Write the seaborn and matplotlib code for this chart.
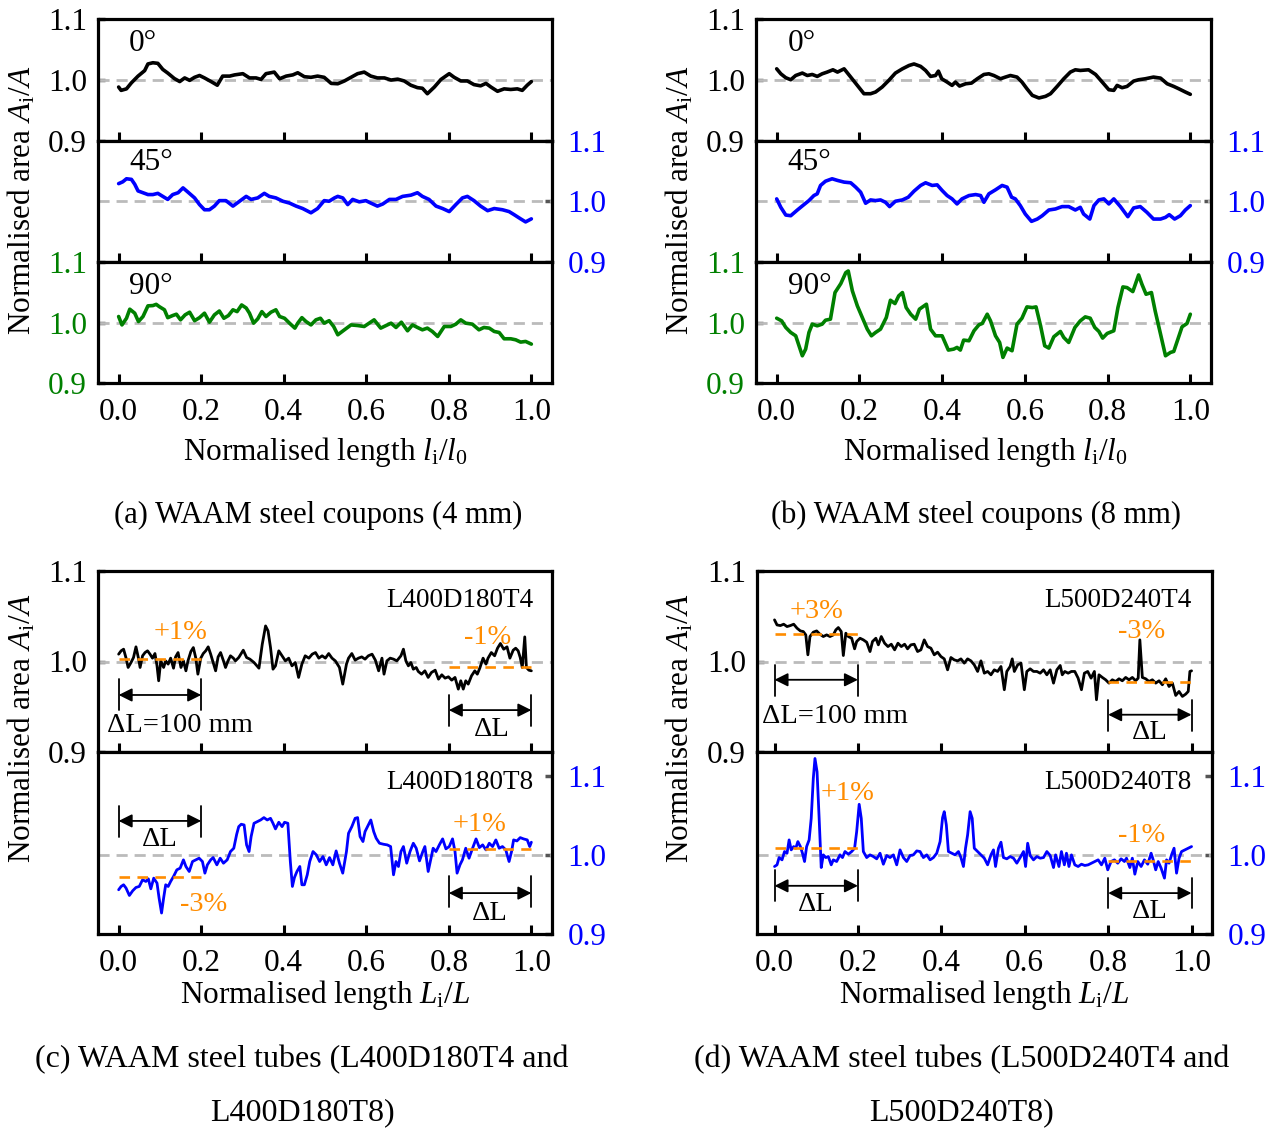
import matplotlib
matplotlib.use("Agg")
import matplotlib.pyplot as plt
import seaborn as sns

sns.set_style("ticks")
plt.rcParams["font.family"] = ["Liberation Serif", "DejaVu Serif"]
plt.rcParams["mathtext.fontset"] = "custom"
plt.rcParams["mathtext.rm"] = "Liberation Serif"
plt.rcParams["mathtext.it"] = "Liberation Serif:italic"
plt.rcParams["mathtext.bf"] = "Liberation Serif:bold"
plt.rcParams["text.color"] = "black"
plt.rcParams["axes.labelcolor"] = "black"
plt.rcParams["xtick.color"] = "black"
plt.rcParams["ytick.color"] = "black"

# ---------------- data: (a) 4 mm coupons ----------------
a0_x = [0.000,0.006,0.019,0.031,0.047,0.063,0.071,0.083,0.095,0.107,
        0.119,0.135,0.148,0.160,0.172,0.184,0.196,0.208,0.224,0.239,
        0.252,0.269,0.281,0.301,0.317,0.333,0.345,0.357,0.377,0.390,
        0.406,0.422,0.434,0.450,0.466,0.482,0.498,0.515,0.531,0.547,
        0.563,0.579,0.595,0.611,0.627,0.644,0.660,0.676,0.692,0.708,
        0.724,0.736,0.748,0.765,0.781,0.801,0.813,0.829,0.845,0.861,
        0.877,0.890,0.902,0.918,0.934,0.950,0.966,0.978,0.990,1.000]
a0_y = [0.988,0.9825,0.985,0.995,1.006,1.015,1.026,1.028,1.027,1.017,
        1.011,1.002,0.997,1.003,0.999,1.004,1.007,1.003,0.997,0.991,
        1.006,1.006,1.008,1.010,1.003,1.003,1.0005,1.010,1.0126,1.0016,
        1.006,1.008,1.0115,1.005,1.004,1.006,1.004,0.994,0.9934,0.998,
        1.004,1.010,1.0126,1.006,1.003,1.003,0.9995,1.001,0.998,0.991,
        0.987,0.986,0.977,0.988,1.0005,1.010,1.004,0.998,0.998,0.992,
        0.990,0.994,0.988,0.981,0.985,0.984,0.985,0.9825,0.991,0.997]

a45_x = [0.000,0.010,0.019,0.031,0.039,0.047,0.059,0.071,0.083,0.095,
         0.107,0.119,0.131,0.144,0.156,0.168,0.184,0.196,0.208,0.220,
         0.232,0.244,0.260,0.277,0.293,0.309,0.321,0.337,0.353,0.365,
         0.381,0.398,0.414,0.430,0.446,0.466,0.482,0.498,0.510,0.523,
         0.531,0.543,0.555,0.567,0.583,0.599,0.611,0.627,0.640,0.656,
         0.672,0.688,0.708,0.724,0.736,0.752,0.769,0.785,0.801,0.817,
         0.833,0.845,0.861,0.877,0.894,0.910,0.930,0.946,0.958,0.974,
         0.986,1.000]
a45_y = [1.029,1.032,1.037,1.036,1.028,1.017,1.014,1.011,1.011,1.013,
         1.008,1.003,1.011,1.014,1.022,1.015,1.0055,0.9945,0.986,0.986,
         0.992,1.001,1.001,0.992,1.0,1.008,1.003,1.0055,1.013,1.008,
         1.0055,1.0,0.997,0.992,0.988,0.981,0.988,1.001,1.0,1.0055,
         1.008,1.0055,0.9945,1.003,0.999,1.001,0.997,0.992,0.9955,1.003,
         1.003,1.008,1.010,1.014,1.008,1.003,0.992,0.988,0.983,0.9945,
         1.0055,1.008,1.001,0.992,0.9845,0.988,0.986,0.983,0.978,0.971,
         0.966,0.971]

a90_x = [0.000,0.008,0.019,0.027,0.039,0.048,0.059,0.071,0.083,0.091,
         0.099,0.111,0.119,0.131,0.140,0.150,0.161,0.172,0.184,0.196,
         0.208,0.220,0.232,0.244,0.255,0.266,0.277,0.287,0.298,0.309,
         0.317,0.327,0.337,0.347,0.357,0.369,0.381,0.390,0.402,0.414,
         0.427,0.434,0.444,0.454,0.466,0.478,0.489,0.498,0.510,0.521,
         0.531,0.547,0.563,0.579,0.595,0.607,0.619,0.635,0.648,0.660,
         0.672,0.685,0.700,0.712,0.724,0.736,0.748,0.760,0.773,0.789,
         0.805,0.817,0.829,0.841,0.857,0.873,0.885,0.898,0.910,0.922,
         0.934,0.950,0.962,0.974,0.986,1.000]
a90_y = [1.0099,0.996,1.007,1.022,1.0154,1.0016,1.0099,1.0275,1.028,1.030,
         1.026,1.021,1.008,1.0115,1.0137,1.0044,1.0126,1.017,1.003,1.008,
         1.0154,1.0005,1.0126,1.019,1.007,1.0115,1.021,1.018,1.029,1.024,
         1.0154,0.9989,1.006,1.018,1.0099,1.017,1.021,1.0099,1.007,0.9989,
         0.9907,0.9989,1.008,1.0016,0.996,1.0044,1.007,0.9989,1.003,0.9934,
         0.9797,0.9879,0.996,0.995,0.9934,0.9989,1.0044,0.9907,0.995,0.9989,
         0.9918,1.0005,0.9863,0.996,0.9918,0.9879,0.9907,0.9852,0.9769,0.9934,
         0.9934,0.9973,1.0044,0.9989,0.9973,0.9879,0.9918,0.9907,0.9852,0.9835,
         0.9731,0.9731,0.9714,0.9676,0.9687,0.9643]

# ---------------- data: (b) 8 mm coupons ----------------
b0_x = [0.000,0.010,0.022,0.034,0.046,0.062,0.074,0.086,0.098,0.110,
        0.122,0.136,0.147,0.163,0.179,0.195,0.211,0.227,0.239,0.255,
        0.271,0.287,0.304,0.320,0.332,0.348,0.360,0.372,0.384,0.391,
        0.399,0.412,0.424,0.432,0.442,0.457,0.471,0.485,0.501,0.513,
        0.525,0.541,0.553,0.565,0.581,0.593,0.605,0.618,0.634,0.650,
        0.662,0.678,0.694,0.710,0.722,0.734,0.754,0.771,0.787,0.803,
        0.815,0.823,0.835,0.847,0.863,0.875,0.891,0.911,0.928,0.944,
        0.960,0.972,0.988,1.000]
b0_y = [1.018,1.0098,1.0033,1.0,1.007,1.011,1.007,1.0087,1.0055,1.0098,
        1.0126,1.0164,1.0126,1.018,1.0044,0.9907,0.977,0.977,0.9798,0.988,
        0.9989,1.011,1.018,1.0235,1.026,1.022,1.0153,1.0055,1.007,1.0142,
        1.0016,0.9962,0.9907,0.9962,0.9896,0.9934,0.9945,1.0016,1.0087,1.0098,
        1.007,1.0016,1.0044,1.007,1.0044,0.9962,0.9852,0.9743,0.970,0.9727,
        0.977,0.989,1.0016,1.0126,1.0164,1.0153,1.0164,1.0087,0.9962,0.9836,
        0.9825,0.9907,0.9869,0.989,0.9978,1.0,1.0016,1.0044,1.0027,0.9934,
        0.989,0.9852,0.9798,0.976]

b45_x = [0.000,0.010,0.022,0.034,0.050,0.066,0.078,0.090,0.098,0.106,
         0.118,0.134,0.147,0.163,0.179,0.191,0.203,0.215,0.227,0.239,
         0.251,0.263,0.273,0.287,0.304,0.318,0.332,0.348,0.360,0.376,
         0.388,0.400,0.412,0.424,0.436,0.448,0.465,0.481,0.493,0.501,
         0.513,0.529,0.545,0.557,0.568,0.577,0.589,0.601,0.616,0.630,
         0.642,0.658,0.674,0.690,0.706,0.722,0.734,0.742,0.757,0.767,
         0.779,0.791,0.803,0.815,0.831,0.849,0.863,0.879,0.895,0.911,
         0.928,0.940,0.949,0.962,0.976,0.988,1.000]
b45_y = [1.0039,0.990,0.9773,0.9762,0.9856,0.9945,1.0011,1.0094,1.0122,1.026,
         1.033,1.037,1.0343,1.0315,1.0304,1.0232,1.0149,0.9967,1.0022,1.0011,
         1.0022,0.9983,0.9912,1.0,1.0022,1.0066,1.0166,1.026,1.0304,1.026,
         1.027,1.0177,1.0094,1.0039,0.9956,1.0039,1.0094,1.011,1.0094,0.9983,
         1.0122,1.0188,1.026,1.0232,1.0066,1.0039,0.9928,0.979,0.9669,0.9707,
         0.9762,0.9856,0.9873,0.9912,0.9912,0.9856,0.990,0.979,0.9707,0.9928,
         1.0022,1.0039,0.9956,1.0039,0.9912,0.9746,0.989,0.9912,0.9818,0.9707,
         0.9707,0.9735,0.9779,0.9707,0.9762,0.9856,0.9928]

b90_x = [0.000,0.012,0.022,0.034,0.046,0.054,0.062,0.070,0.078,0.086,
         0.098,0.110,0.118,0.130,0.141,0.155,0.167,0.173,0.183,0.195,
         0.207,0.219,0.229,0.239,0.251,0.265,0.275,0.286,0.295,0.304,
         0.313,0.324,0.336,0.345,0.362,0.372,0.384,0.400,0.415,0.428,
         0.436,0.444,0.452,0.465,0.477,0.489,0.497,0.509,0.517,0.529,
         0.539,0.547,0.557,0.569,0.581,0.593,0.605,0.618,0.627,0.638,
         0.648,0.658,0.670,0.686,0.694,0.706,0.721,0.734,0.746,0.758,
         0.769,0.779,0.788,0.799,0.815,0.825,0.837,0.847,0.861,0.875,
         0.883,0.893,0.906,0.915,0.928,0.940,0.952,0.960,0.970,0.980,
         0.992,1.000]
b90_y = [1.0071,1.0027,0.9918,0.9835,0.978,0.9615,0.945,0.956,0.9835,0.9973,
         0.9945,0.9973,1.0038,1.0055,1.0495,1.0643,1.0824,1.0852,1.0522,1.0275,
         1.0082,0.989,0.978,0.9835,0.989,1.0082,1.0368,1.0313,1.044,1.0495,
         1.0247,1.0137,1.0055,1.022,1.0302,0.989,0.978,0.978,0.9544,0.956,
         0.9588,0.9544,0.9709,0.9698,0.9863,0.9962,0.9984,1.0137,1.0027,0.978,
         0.967,0.9423,0.9577,0.9533,0.9973,1.0071,1.0258,1.0247,1.0258,0.9945,
         0.9615,0.9577,0.9764,0.9852,0.9753,0.967,0.9918,1.0027,1.0093,1.0071,
         0.9918,0.9852,0.9742,0.9819,0.9863,1.0247,1.0588,1.0577,1.0511,1.0786,
         1.0632,1.0467,1.0495,1.0192,0.9808,0.945,0.9505,0.9522,0.9725,0.9929,
         0.9984,1.0137]

# ---------------- data: (c) L400D180 tubes ----------------
cT4_x = [0.000,0.006,0.012,0.018,0.023,0.030,0.036,0.042,0.048,0.052,
         0.058,0.064,0.070,0.076,0.082,0.088,0.093,0.097,0.102,0.109,
         0.114,0.120,0.126,0.133,0.138,0.144,0.151,0.157,0.163,0.168,
         0.175,0.181,0.187,0.192,0.199,0.205,0.211,0.217,0.223,0.229,
         0.235,0.241,0.247,0.254,0.259,0.265,0.271,0.278,0.283,0.291,
         0.302,0.310,0.318,0.328,0.340,0.348,0.356,0.362,0.368,0.374,
         0.380,0.388,0.396,0.404,0.412,0.420,0.428,0.436,0.444,0.452,
         0.461,0.469,0.477,0.485,0.493,0.501,0.509,0.517,0.525,0.535,
         0.543,0.552,0.557,0.565,0.573,0.581,0.589,0.597,0.605,0.614,
         0.622,0.630,0.638,0.643,0.650,0.658,0.666,0.674,0.684,0.690,
         0.696,0.702,0.708,0.714,0.721,0.726,0.734,0.742,0.750,0.758,
         0.767,0.775,0.783,0.791,0.799,0.807,0.815,0.823,0.829,0.835,
         0.841,0.847,0.855,0.863,0.869,0.875,0.883,0.890,0.895,0.903,
         0.911,0.918,0.925,0.933,0.941,0.948,0.956,0.962,0.968,0.973,
         0.978,0.984,0.988,0.994,1.000]
cT4_y = [1.0081,1.0118,1.0136,1.0037,0.9934,0.9989,1.0044,1.0162,1.0037,0.9934,
         1.0063,1.0099,1.0118,1.0081,1.0037,1.0088,0.9952,0.9787,1.0007,0.9934,
         1.0007,0.9971,1.0037,0.9926,1.0051,1.0099,0.9934,1.0007,0.9897,1.0007,
         1.011,1.0154,1.0037,0.986,1.0037,1.0088,1.0118,1.0162,1.0081,0.9989,
         0.9897,1.0051,1.0099,1.0007,0.9934,1.0007,1.0063,1.0037,1.0007,1.0044,
         1.0125,1.0044,1.0026,0.9989,0.9926,1.0191,1.0393,1.0338,1.0154,0.9915,
         0.9952,1.0118,1.0063,1.0007,1.0037,0.9952,0.9989,0.9824,0.9971,1.0063,
         1.0037,1.0081,1.0099,1.0037,1.0063,1.0037,1.0088,1.0037,1.0007,0.9934,
         0.975,0.9971,1.0037,1.0088,1.0015,1.0037,1.0051,1.0026,1.0063,1.0081,
         1.0015,0.9897,1.0037,0.986,1.0007,1.0037,1.0026,1.0007,1.0063,1.0136,
         1.0007,0.9952,0.9989,0.9915,0.9934,0.989,0.986,0.9897,0.9824,0.9879,
         0.9904,0.9805,0.9853,0.9816,0.9831,0.9794,0.9824,0.9695,0.9787,0.9695,
         0.9787,0.975,0.9842,0.9897,0.986,0.9926,1.0037,0.9971,1.0037,1.0099,
         1.0063,1.0147,1.0199,1.0136,1.0162,1.0037,1.0125,1.0147,1.0118,1.0044,
         0.9934,1.0272,0.9934,0.9904,0.9897]

cT8_x = [0.000,0.006,0.012,0.018,0.026,0.034,0.042,0.050,0.058,0.066,
         0.072,0.078,0.085,0.093,0.098,0.104,0.109,0.114,0.120,0.126,
         0.133,0.141,0.149,0.157,0.163,0.171,0.179,0.187,0.195,0.203,
         0.209,0.215,0.223,0.229,0.238,0.246,0.254,0.263,0.271,0.279,
         0.286,0.291,0.297,0.304,0.310,0.316,0.321,0.328,0.336,0.344,
         0.352,0.360,0.368,0.374,0.380,0.388,0.396,0.402,0.410,0.416,
         0.421,0.426,0.432,0.439,0.444,0.450,0.457,0.463,0.471,0.479,
         0.487,0.495,0.503,0.511,0.519,0.527,0.535,0.543,0.552,0.557,
         0.565,0.573,0.579,0.585,0.592,0.597,0.603,0.611,0.618,0.624,
         0.632,0.642,0.651,0.659,0.666,0.672,0.678,0.684,0.690,0.698,
         0.706,0.714,0.721,0.729,0.737,0.742,0.750,0.756,0.762,0.769,
         0.777,0.785,0.793,0.801,0.809,0.815,0.820,0.827,0.833,0.841,
         0.849,0.857,0.866,0.874,0.882,0.890,0.898,0.906,0.914,0.922,
         0.930,0.938,0.946,0.952,0.957,0.965,0.973,0.981,0.990,0.996,
         1.000]
cT8_y = [0.9559,0.9601,0.9622,0.958,0.9487,0.9546,0.9588,0.9601,0.9685,0.9664,
         0.9697,0.9571,0.9706,0.9643,0.9454,0.9265,0.9454,0.9622,0.9601,0.9664,
         0.9727,0.9811,0.9832,0.9937,0.9853,0.979,0.9916,0.9937,0.9958,0.9916,
         0.9769,0.9874,0.9937,0.9966,0.9874,0.9958,0.9895,0.9937,1.0042,1.0084,
         1.026,1.0357,1.0387,1.0378,1.0126,1.0042,1.0231,1.0399,1.042,1.0441,
         1.0471,1.0441,1.0462,1.0399,1.0328,1.0412,1.0357,1.0412,1.0399,0.9916,
         0.9601,0.9714,0.979,0.9853,0.9622,0.9622,0.9748,0.9916,1.0042,1.0,
         0.9916,0.9979,0.9874,0.9966,0.9874,1.005,0.9895,0.9769,1.0042,1.0273,
         1.0357,1.0462,1.0471,1.0231,1.0168,1.0294,1.0357,1.0441,1.0294,1.021,
         1.0147,1.0134,1.0126,1.0105,0.9748,0.9916,0.9853,1.0042,1.0105,0.9895,
         1.0042,1.0147,1.0084,0.9924,1.0042,1.0105,0.979,0.9937,1.0084,1.0042,
         1.0126,1.0202,1.0076,1.0105,1.0202,1.0042,0.9769,0.9874,0.9937,1.0084,
         0.9958,1.0076,1.0202,1.0092,1.0126,1.0063,1.0147,1.0105,1.0189,1.0084,
         1.0105,1.0063,0.9916,1.0042,1.0189,1.0176,1.0218,1.0202,1.0189,1.0105,
         1.016]

# ---------------- data: (d) L500D240 tubes ----------------
dT4_x = [0.000,0.006,0.014,0.022,0.030,0.038,0.046,0.054,0.062,0.069,
         0.075,0.080,0.085,0.093,0.101,0.109,0.117,0.125,0.133,0.141,
         0.147,0.153,0.160,0.165,0.171,0.177,0.185,0.192,0.197,0.205,
         0.213,0.221,0.229,0.235,0.243,0.249,0.256,0.264,0.272,0.280,
         0.288,0.296,0.304,0.312,0.319,0.327,0.335,0.343,0.351,0.359,
         0.367,0.375,0.383,0.391,0.399,0.407,0.415,0.423,0.431,0.439,
         0.447,0.455,0.463,0.471,0.479,0.487,0.495,0.503,0.511,0.519,
         0.527,0.535,0.543,0.551,0.557,0.565,0.570,0.575,0.583,0.591,
         0.599,0.605,0.613,0.621,0.629,0.637,0.645,0.653,0.661,0.669,
         0.677,0.685,0.690,0.696,0.704,0.712,0.720,0.728,0.736,0.743,
         0.751,0.759,0.767,0.772,0.778,0.786,0.794,0.802,0.810,0.818,
         0.826,0.834,0.842,0.850,0.858,0.866,0.872,0.876,0.882,0.890,
         0.898,0.906,0.914,0.922,0.930,0.938,0.946,0.954,0.962,0.970,
         0.978,0.986,0.992,0.996,1.000]
dT4_y = [1.046,1.0404,1.0397,1.0412,1.0386,1.0397,1.0412,1.0368,1.0338,1.0331,
         1.0294,1.0074,1.0276,1.0324,1.0338,1.0301,1.0276,1.0294,1.0276,1.0294,
         1.0349,1.0375,1.0331,1.0066,1.0313,1.0276,1.0257,1.014,1.0221,1.0257,
         1.0239,1.0213,1.011,1.0221,1.0257,1.0184,1.0276,1.0202,1.0165,1.0191,
         1.0129,1.0202,1.0165,1.0191,1.014,1.0184,1.0191,1.011,1.0129,1.0239,
         1.0165,1.0147,1.0074,1.0103,1.0055,1.0029,0.9908,1.0044,1.0018,1.0007,
         1.0029,0.9982,1.0029,1.0007,0.9963,0.989,1.0007,0.9871,0.989,0.9853,
         0.9908,0.989,0.9945,0.9688,0.989,0.9945,1.0029,0.989,0.9963,0.9982,
         0.9688,0.989,0.9919,0.989,0.989,0.9871,0.9908,0.9853,0.9908,0.9761,
         0.9908,0.9956,0.9853,0.989,0.9871,0.989,0.989,0.9816,0.9688,0.9871,
         0.989,0.9816,0.989,0.9577,0.9853,0.9824,0.9798,0.9761,0.9798,0.9779,
         0.9809,0.9787,0.9824,0.9798,0.9824,0.9787,0.9816,1.0239,0.9824,0.9809,
         0.9779,0.9798,0.9761,0.9787,0.9743,0.9809,0.9724,0.9761,0.9625,0.9669,
         0.9614,0.964,0.9669,0.989,0.9897]

dT8_x = [0.000,0.006,0.011,0.018,0.024,0.030,0.035,0.040,0.046,0.051,
         0.056,0.062,0.067,0.072,0.077,0.083,0.088,0.093,0.097,0.102,
         0.107,0.112,0.117,0.123,0.129,0.136,0.141,0.149,0.157,0.163,
         0.169,0.177,0.185,0.192,0.197,0.203,0.208,0.213,0.221,0.229,
         0.237,0.245,0.253,0.261,0.269,0.277,0.285,0.293,0.301,0.309,
         0.317,0.325,0.333,0.341,0.349,0.357,0.365,0.373,0.381,0.389,
         0.397,0.403,0.407,0.412,0.417,0.425,0.433,0.441,0.447,0.453,
         0.458,0.463,0.469,0.474,0.479,0.487,0.495,0.503,0.511,0.519,
         0.525,0.530,0.537,0.543,0.549,0.557,0.565,0.573,0.581,0.589,
         0.597,0.602,0.607,0.613,0.621,0.629,0.637,0.645,0.653,0.661,
         0.669,0.674,0.682,0.688,0.695,0.700,0.706,0.712,0.720,0.728,
         0.736,0.744,0.752,0.760,0.768,0.776,0.784,0.792,0.799,0.807,
         0.815,0.823,0.831,0.839,0.844,0.852,0.858,0.864,0.871,0.879,
         0.887,0.895,0.903,0.908,0.914,0.920,0.927,0.935,0.940,0.946,
         0.952,0.958,0.964,0.970,0.976,0.984,0.992,1.000]
dT8_y = [0.9853,0.9874,0.9966,0.9937,1.0042,1.0021,1.0189,1.0063,1.0105,1.0084,
         1.0168,1.0105,1.0021,0.9916,1.0105,1.0189,1.0462,1.0966,1.1218,1.105,
         1.0462,0.984,1.0,0.9966,0.9979,0.9874,0.9937,0.9916,1.0,0.9966,
         1.0042,1.0008,1.0042,1.0084,1.0294,1.0639,1.0462,1.0042,0.9966,1.0,
         0.9979,0.995,1.0021,0.9882,0.9992,0.9966,1.0,0.9874,1.0063,0.9966,
         0.9916,0.9992,1.0,1.005,1.0042,0.9966,1.0,0.9937,0.9966,1.0021,
         1.0168,1.0471,1.0546,1.0378,1.0042,1.0021,1.0,1.0042,0.9966,0.9853,
         1.0084,1.0252,1.0546,1.0462,1.0084,1.0042,1.0,0.9958,0.9874,1.0,
         1.0063,0.9853,1.0084,1.016,0.9966,0.995,0.9979,0.9958,0.9895,0.9966,
         1.0042,0.9853,1.0147,0.9992,0.9937,0.9979,0.9958,0.9966,1.0042,0.9992,
         0.984,1.0,0.9853,1.0042,0.9874,1.0021,0.9853,1.0,0.9874,0.9853,
         0.9882,0.9866,0.9874,0.9895,0.9916,0.9937,0.9874,0.9958,0.9811,0.9916,
         0.9937,0.9895,0.995,0.9916,0.9958,0.984,0.9958,0.9756,0.9916,0.9853,
         0.9937,0.9882,1.0021,0.9937,0.9811,0.9916,0.9832,0.9706,0.9937,0.9895,
         1.0,1.0084,0.9769,0.9958,1.0042,1.0063,1.0084,1.0105]

# segment means (orange dashed) over the two end segments of length ΔL
seg_spans = [(0.0, 0.2), (0.8, 1.0)]
cT4_means = [1.003, 0.994]
cT8_means = [0.972, 1.0076]
dT4_means = [1.030, 0.977]
dT8_means = [1.0092, 0.9924]
cT4_pct = ["+1%", "-1%"]
cT8_pct = ["-3%", "+1%"]
dT4_pct = ["+3%", "-3%"]
dT8_pct = ["+1%", "-1%"]

xticks = [0.0, 0.2, 0.4, 0.6, 0.8, 1.0]
xtick_labels = ["0.0", "0.2", "0.4", "0.6", "0.8", "1.0"]
yticks = [0.9, 1.0, 1.1]
ytick_labels = ["0.9", "1.0", "1.1"]

BLACK, BLUE, GREEN, ORANGE = "black", "#0000FF", "#008000", "#FF8C00"
FS = 22.5

W, H = 1273, 1131
fig = plt.figure(figsize=(W / 100, H / 100), dpi=100)


def add_ax(left, top, right, bottom):
    return fig.add_axes([left / W, 1 - bottom / H, (right - left) / W, (bottom - top) / H])


def style(ax, xlim, ylim, side, col, show_x):
    ax.set_xlim(*xlim)
    ax.set_ylim(*ylim)
    ax.set_xticks(xticks)
    ax.set_xticklabels(xtick_labels if show_x else [""] * len(xticks))
    ax.set_yticks(yticks)
    ax.set_yticklabels(ytick_labels)
    ax.set_xlabel("")
    ax.set_ylabel("")
    for s in ax.spines.values():
        s.set_visible(True)
        s.set_linewidth(2.3)
        s.set_color("black")
    ax.tick_params(axis="x", direction="in", length=6.5, width=2.2, bottom=True, top=False,
                   labelbottom=show_x, labelsize=FS, pad=11, colors="black")
    ax.tick_params(axis="y", direction="in", length=5, width=2.5, color="#555555",
                   labelcolor=col, labelsize=FS,
                   left=(side == "left"), right=(side == "right"),
                   labelleft=(side == "left"), labelright=(side == "right"),
                   pad=(8 if side == "left" else 11))
    ax.axhline(1.0, color="#BBBBBB", lw=2.0, dashes=(4, 2.5), zorder=1)
    ax.set_facecolor("white")


def curve(ax, xs, ys, col, lw):
    n = min(len(xs), len(ys))
    sns.lineplot(x=xs[:n], y=ys[:n], ax=ax, color=col, linewidth=lw,
                 estimator=None, sort=False, legend=False, zorder=3)


def dl_arrow(ax, x0, x1, y, ybar0, ybar1):
    ax.annotate("", xy=(x1, y), xytext=(x0, y),
                arrowprops=dict(arrowstyle="<|-|>", color="black", lw=1.3,
                                mutation_scale=20, shrinkA=0, shrinkB=0), zorder=4)
    for xv in (x0, x1):
        ax.plot([xv, xv], [ybar0, ybar1], color="black", lw=1.3, zorder=4)


def means(ax, vals):
    for (s0, s1), m in zip(seg_spans, vals):
        ax.plot([s0, s1], [m, m], color=ORANGE, lw=1.9, dashes=(4, 2.8), zorder=5)


# ---------------- panels (a) and (b) ----------------
rows3 = [(19, 140.5), (140.5, 262), (262, 383)]
coupon = [
    (98, 552, (-0.05, 1.05), [(a0_x, a0_y), (a45_x, a45_y), (a90_x, a90_y)], 0.025),
    (756, 1211, (-0.05, 1.05), [(b0_x, b0_y), (b45_x, b45_y), (b90_x, b90_y)], 0.027),
]
angle_lbl = ["0°", "45°", "90°"]
angle_col = [BLACK, BLUE, GREEN]
angle_side = ["left", "right", "left"]
angle_ly = [1.060, 1.063, 1.059]
for left, right, xl, series, lx in coupon:
    for i, (top, bot) in enumerate(rows3):
        ax = add_ax(left, top, right, bot)
        curve(ax, series[i][0], series[i][1], angle_col[i], 2.6)
        style(ax, xl, (0.9, 1.1), angle_side[i], angle_col[i], i == 2)
        ax.text(lx, angle_ly[i], angle_lbl[i], fontsize=FS, ha="left", va="center")

# ---------------- panels (c) and (d) ----------------
rows2 = [(571, 752), (752, 934)]
tubes = [
    (98, 552, (-0.05, 1.05),
     [(cT4_x, cT4_y, cT4_means, cT4_pct, "L400D180T4"), (cT8_x, cT8_y, cT8_means, cT8_pct, "L400D180T8")],
     1.005),
    (757, 1212, (-0.042, 1.049),
     [(dT4_x, dT4_y, dT4_means, dT4_pct, "L500D240T4"), (dT8_x, dT8_y, dT8_means, dT8_pct, "L500D240T8")],
     1.0),
]
tube_ylim = [(0.9, 1.1), (0.9, 1.13)]
tube_col = [BLACK, BLUE]
tube_side = ["left", "right"]
AF = 20.5
for p, (left, right, xl, series, name_x) in enumerate(tubes):
    axs = []
    for i, (top, bot) in enumerate(rows2):
        ax = add_ax(left, top, right, bot)
        xs, ys, mv, pct, name = series[i]
        curve(ax, xs, ys, tube_col[i], 2.0)
        style(ax, xl, tube_ylim[i], tube_side[i], tube_col[i], i == 1)
        means(ax, mv)
        ax.text(name_x, (1.067 if i == 0 else 1.092), name, fontsize=19.5, ha="right", va="center")
        axs.append(ax)
    top_ax, bot_ax = axs
    if p == 0:
        top_ax.text(0.15, 1.032, cT4_pct[0], color=ORANGE, fontsize=AF, ha="center", va="center")
        top_ax.text(0.895, 1.0265, cT4_pct[1], color=ORANGE, fontsize=AF, ha="center", va="center")
        dl_arrow(top_ax, 0.0, 0.2, 0.963, 0.9805, 0.9463)
        top_ax.text(-0.027, 0.929, "ΔL=100 mm", fontsize=AF, ha="left", va="center")
        dl_arrow(top_ax, 0.8, 1.0, 0.9463, 0.963, 0.929)
        top_ax.text(0.905, 0.925, "ΔL", fontsize=AF, ha="center", va="center")
        bot_ax.text(0.875, 1.0378, cT8_pct[1], color=ORANGE, fontsize=AF, ha="center", va="center")
        bot_ax.text(0.205, 0.937, cT8_pct[0], color=ORANGE, fontsize=AF, ha="center", va="center")
        dl_arrow(bot_ax, 0.0, 0.2, 1.0429, 1.062, 1.023)
        bot_ax.text(0.1, 1.019, "ΔL", fontsize=AF, ha="center", va="center")
        dl_arrow(bot_ax, 0.8, 1.0, 0.9517, 0.9727, 0.9336)
        bot_ax.text(0.9, 0.926, "ΔL", fontsize=AF, ha="center", va="center")
    else:
        top_ax.text(0.1, 1.055, dT4_pct[0], color=ORANGE, fontsize=AF, ha="center", va="center")
        top_ax.text(0.88, 1.033, dT4_pct[1], color=ORANGE, fontsize=AF, ha="center", va="center")
        dl_arrow(top_ax, 0.0, 0.2, 0.9798, 0.9963, 0.9614)
        top_ax.text(-0.029, 0.939, "ΔL=100 mm", fontsize=AF, ha="left", va="center")
        dl_arrow(top_ax, 0.8, 1.0, 0.9412, 0.9577, 0.9235)
        top_ax.text(0.9, 0.921, "ΔL", fontsize=AF, ha="center", va="center")
        bot_ax.text(0.175, 1.0777, dT8_pct[0], color=ORANGE, fontsize=AF, ha="center", va="center")
        bot_ax.text(0.88, 1.025, dT8_pct[1], color=ORANGE, fontsize=AF, ha="center", va="center")
        dl_arrow(bot_ax, 0.0, 0.2, 0.9609, 0.9811, 0.9412)
        bot_ax.text(0.1, 0.937, "ΔL", fontsize=AF, ha="center", va="center")
        dl_arrow(bot_ax, 0.8, 1.0, 0.9517, 0.9714, 0.9328)
        bot_ax.text(0.9, 0.9286, "ΔL", fontsize=AF, ha="center", va="center")

# ---------------- figure-level labels ----------------
def ftext(x, y, s, size=FS, **kw):
    fig.text(x / W, 1 - y / H, s, fontsize=size, ha="center", va="center", color="black", **kw)

ylab = r"Normalised area $A_{\mathrm{i}}/A$"
ftext(22, 200, ylab, rotation=90)
ftext(680, 200, ylab, rotation=90)
ftext(22, 728, ylab, rotation=90)
ftext(680, 728, ylab, rotation=90)

ftext(325, 452, r"Normalised length $l_{\mathrm{i}}/l_{\mathit{0}}$")
ftext(985, 452, r"Normalised length $l_{\mathrm{i}}/l_{\mathit{0}}$")
ftext(325, 995, r"Normalised length $L_{\mathrm{i}}/L$")
ftext(984, 995, r"Normalised length $L_{\mathrm{i}}/L$")

ftext(318, 515, "(a) WAAM steel coupons (4 mm)", size=22)
ftext(976, 515, "(b) WAAM steel coupons (8 mm)", size=22)
ftext(302, 1060, "(c) WAAM steel tubes (L400D180T4 and", size=23)
ftext(302, 1113, "L400D180T8)", size=23)
ftext(962, 1060, "(d) WAAM steel tubes (L500D240T4 and", size=23)
ftext(962, 1113, "L500D240T8)", size=23)

fig.savefig("out.png", dpi=100, facecolor="white")
